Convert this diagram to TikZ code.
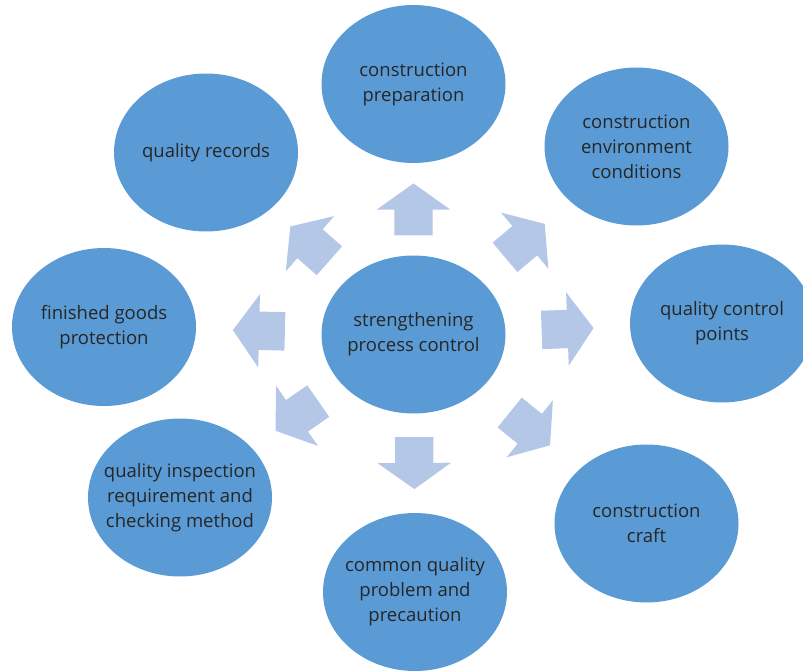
\documentclass[tikz,border=0pt]{standalone}
\usepackage{fontspec}
\setmainfont{Open Sans}
\usetikzlibrary{shapes.geometric, shapes.arrows}
\definecolor{ovalblue}{RGB}{91, 155, 213}
\definecolor{flowblue}{RGB}{180, 199, 231}
\definecolor{inkgray}{RGB}{38, 38, 38}

\begin{document}
\begin{tikzpicture}[x=1pt, y=-1pt,
  oval/.style={ellipse, fill=ovalblue, minimum width=184pt, minimum height=158pt, inner sep=0pt,
    label={[text=inkgray, align=center, font=\fontsize{18.5}{25}\selectfont]center:#1}},
  flow/.style={single arrow, fill=flowblue, inner xsep=0pt, inner ysep=19pt, minimum height=52pt,
    single arrow head extend=17.5pt, single arrow tip angle=109, midway, sloped, allow upside down,
    xshift=-7pt}]
  \useasboundingbox (0, 0) rectangle (803, 671);
  \clip (0, 0) rectangle (803, 671);

  % ===== Centre =====
  \node[oval={strengthening\\process control}] (ctr) at (413.5, 334.5) {};

  % ===== Outer ovals =====
  \node[oval={construction\\preparation}] (prep) at (413.5, 84) {};
  \node[oval={construction\\environment\\conditions}] (envir) at (636.5, 146.5) {};
  \node[oval={quality control\\points}] (qcp) at (722, 323.5) {};
  \node[oval={construction\\craft}] (craft) at (646.5, 523.5) {};
  \node[oval={common quality\\problem and\\precaution}] (probl) at (415, 592) {};
  \node[oval={quality inspection\\requirement and\\checking method}] (inspect) at (180, 497.5) {};
  \node[oval={finished goods\\protection}] (protect) at (104, 327) {};
  \node[oval={quality records}] (records) at (206, 152.5) {};

  % ===== Arrows =====
  \path (ctr) -- node[flow] {} (prep);
  \path (ctr) -- node[flow] {} (envir);
  \path (ctr) -- node[flow] {} (qcp);
  \path (ctr) -- node[flow] {} (craft);
  \path (ctr) -- node[flow] {} (probl);
  \path (ctr) -- node[flow] {} (inspect);
  \path (ctr) -- node[flow] {} (protect);
  \path (ctr) -- node[flow] {} (records);
\end{tikzpicture}
\end{document}
